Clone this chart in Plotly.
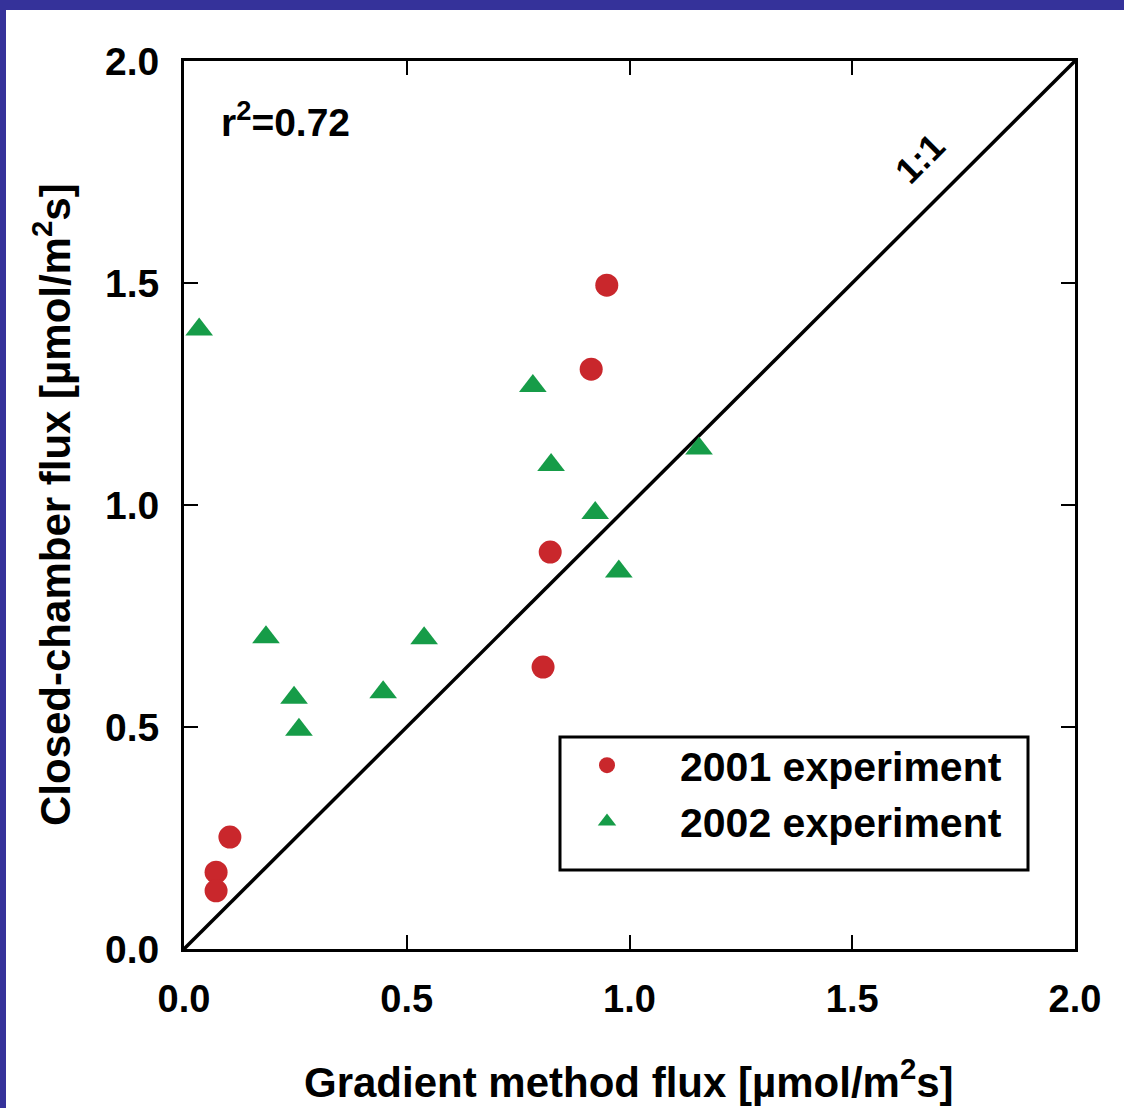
import plotly.graph_objects as go

# Data
x2001 = [0.949, 0.914, 0.822, 0.806, 0.103, 0.072, 0.072]
y2001 = [1.495, 1.306, 0.894, 0.635, 0.252, 0.173, 0.131]

x2002 = [0.034, 0.783, 0.824, 1.156, 0.923, 0.976, 0.184, 0.539, 0.447, 0.247, 0.258]
y2002 = [1.395, 1.268, 1.090, 1.127, 0.982, 0.850, 0.702, 0.700, 0.578, 0.566, 0.494]

one_to_one = [0.0, 2.0]
tick_vals = [0.0, 0.5, 1.0, 1.5, 2.0]
tick_text = ["0.0", "0.5", "1.0", "1.5", "2.0"]

RED = "#c9272c"
GREEN = "#169c48"
BLUE = "#35329a"
FONT = "Liberation Sans, Arial, Helvetica, sans-serif"

W, H = 1124, 1108
ML, MR, MT, MB = 184, 49, 61, 159
PW, PH = W - ML - MR, H - MT - MB


def px_x(px):
    return (px - ML) / PW


def px_y(py):
    return (H - MB - py) / PH


fig = go.Figure()

fig.add_trace(go.Scatter(
    x=one_to_one, y=one_to_one, mode="lines",
    line=dict(color="black", width=3.5), showlegend=False, hoverinfo="skip"))

fig.add_trace(go.Scatter(
    x=x2001, y=y2001, mode="markers", name="2001 experiment",
    marker=dict(symbol="circle", size=23, color=RED, line=dict(width=0)),
    cliponaxis=False))

fig.add_trace(go.Scatter(
    x=x2002, y=y2002, mode="markers", name="2002 experiment",
    marker=dict(symbol="triangle-up", size=24, color=GREEN, line=dict(width=0)),
    cliponaxis=False))

axis_common = dict(
    range=[0, 2], tickvals=tick_vals, ticktext=tick_text,
    showgrid=False, zeroline=False, showline=True, linecolor="black",
    linewidth=3, mirror="ticks", ticks="inside", ticklen=14, tickwidth=2,
    tickcolor="black",
)

fig.update_xaxes(**axis_common,
                 tickfont=dict(family=FONT, size=38, color="black", weight="bold"),
                 ticklabelstandoff=14)
fig.update_yaxes(**axis_common,
                 tickfont=dict(family=FONT, size=39, color="black", weight="bold"),
                 ticklabelstandoff=14)

annotations = [
    dict(x=px_x(629), y=px_y(1079), xref="paper", yref="paper",
         text="<b>Gradient method flux [µmol/m<sup>2</sup>s]</b>", showarrow=False,
         font=dict(family=FONT, size=42, color="black"), xanchor="center", yanchor="middle"),
    dict(x=px_x(52), y=px_y(505), xref="paper", yref="paper",
         text="<b>Closed-chamber flux [µmol/m<sup>2</sup>s]</b>", showarrow=False,
         textangle=-90,
         font=dict(family=FONT, size=42, color="black"), xanchor="center", yanchor="middle"),
    dict(x=0.078, y=1.868, xref="x", yref="y",
         text="<b>r<sup>2</sup>=0.72</b>", showarrow=False,
         font=dict(family=FONT, size=39, color="black"), xanchor="left", yanchor="middle"),
    dict(x=1.652, y=1.780, xref="x", yref="y",
         text="<b>1:1</b>", showarrow=False, textangle=-45,
         font=dict(family=FONT, size=36, color="black"), xanchor="center", yanchor="middle"),
]

shapes = [
    # legend box
    dict(type="rect", xref="paper", yref="paper",
         x0=px_x(560), x1=px_x(1028), y0=px_y(870), y1=px_y(737),
         line=dict(color="black", width=3), fillcolor="rgba(0,0,0,0)", layer="above"),
    # blue frame: top and left
    dict(type="rect", xref="paper", yref="paper",
         x0=px_x(0), x1=px_x(W), y0=px_y(10), y1=px_y(0),
         line=dict(width=0), fillcolor=BLUE, layer="above"),
    dict(type="rect", xref="paper", yref="paper",
         x0=px_x(0), x1=px_x(6), y0=px_y(H), y1=px_y(0),
         line=dict(width=0), fillcolor=BLUE, layer="above"),
]

fig.update_layout(
    width=W, height=H,
    margin=dict(l=ML, r=MR, t=MT, b=MB, pad=0),
    paper_bgcolor="white", plot_bgcolor="white",
    font=dict(family=FONT, color="black"),
    annotations=annotations, shapes=shapes,
    legend=dict(
        x=px_x(534), y=px_y(732), xanchor="left", yanchor="top",
        bgcolor="rgba(0,0,0,0)", borderwidth=0,
        font=dict(family=FONT, size=41, color="black", weight="bold"),
        itemwidth=136, tracegroupgap=0,
    ),
)

fig.write_html(
    "out.html",
    config={"displayModeBar": False},
    post_script="document.body.style.margin='0';document.body.style.overflow='hidden';",
)
